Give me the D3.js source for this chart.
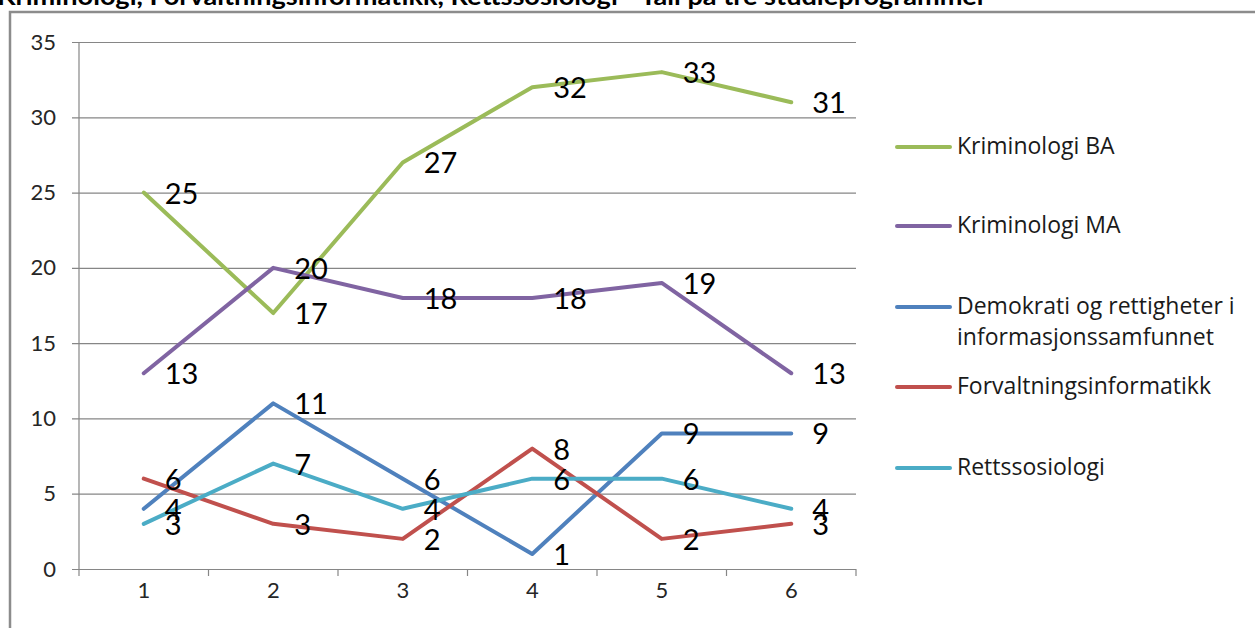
<!DOCTYPE html>
<html>
<head>
<meta charset="utf-8">
<script src="https://cdnjs.cloudflare.com/ajax/libs/d3/7.8.5/d3.min.js"></script>
<style>
  body { margin: 0; background: #fff; overflow: hidden; }
  svg { display: block; font-family: Lato, "Open Sans", sans-serif; }
</style>
</head>
<body>
<div id="chart"></div>
<script>
// data
const categories = ["1", "2", "3", "4", "5", "6"];
const seriesNames = ["Kriminologi BA", "Kriminologi MA", "Demokrati og rettigheter i informasjonssamfunnet", "Forvaltningsinformatikk", "Rettssosiologi"];
const kriminologiBA = [25, 17, 27, 32, 33, 31];
const kriminologiMA = [13, 20, 18, 18, 19, 13];
const demokrati = [4, 11, 6, 1, 9, 9];
const forvaltning = [6, 3, 2, 8, 2, 3];
const rettssosiologi = [3, 7, 4, 6, 6, 4];
const yTicks = [0, 5, 10, 15, 20, 25, 30, 35];
const colors = ["#9bbb59", "#8064a2", "#4f81bd", "#c0504d", "#4bacc6"];
const title = "Kriminologi, Forvaltningsinformatikk, Rettssosiologi - Tall på tre studieprogrammer";

const series = [kriminologiBA, kriminologiMA, demokrati, forvaltning, rettssosiologi]
  .map((vals, i) => ({ name: seriesNames[i], values: vals, color: colors[i] }));

const w = 1255, h = 628;
const plotLeft = 79, plotRight = 856, plotTop = 42, plotBottom = 569;

const svg = d3.select("#chart").append("svg")
  .attr("width", w).attr("height", h);

// title, cut at the top like in the screenshot
svg.append("text")
  .attr("x", -3).attr("y", 5)
  .attr("font-weight", "bold")
  .attr("font-size", 24)
  .attr("textLength", 990)
  .attr("lengthAdjust", "spacingAndGlyphs")
  .attr("fill", "#000")
  .text(title);

// outer frame
svg.append("path")
  .attr("d", "M10," + h + "V12H" + w)
  .attr("fill", "none")
  .attr("stroke", "#8c8c8c")
  .attr("stroke-width", 2.5);

const xScale = d3.scaleBand().domain(categories).range([plotLeft, plotRight]);
const yScale = d3.scaleLinear().domain([0, 35]).range([plotBottom, plotTop]);

// gridlines + y axis
const yAxis = d3.axisLeft(yScale)
  .tickValues(yTicks)
  .tickSize(plotRight - plotLeft + 7)
  .tickPadding(16);

const gy = svg.append("g")
  .attr("transform", "translate(" + plotRight + ",0)")
  .call(yAxis);
gy.select(".domain").remove();
gy.selectAll("line").attr("stroke", "#868686").attr("stroke-width", 1.2);
gy.selectAll("text").attr("font-size", 22).attr("fill", "#262626")
  .attr("font-family", "Lato, sans-serif");

// left axis line
svg.append("line")
  .attr("x1", plotLeft).attr("x2", plotLeft)
  .attr("y1", plotTop).attr("y2", plotBottom + 7)
  .attr("stroke", "#868686").attr("stroke-width", 1.2);

// x axis
const xAxis = d3.axisBottom(xScale).tickSize(0).tickPadding(13);
const gx = svg.append("g")
  .attr("transform", "translate(0," + plotBottom + ")")
  .call(xAxis);
gx.select(".domain").remove();
gx.selectAll("text").attr("font-size", 22).attr("fill", "#262626")
  .attr("font-family", "Lato, sans-serif");

// tick marks between categories
svg.append("g").selectAll("line")
  .data(categories)
  .enter()
  .append("line")
  .attr("x1", d => xScale(d) + xScale.bandwidth())
  .attr("x2", d => xScale(d) + xScale.bandwidth())
  .attr("y1", plotBottom).attr("y2", plotBottom + 7)
  .attr("stroke", "#868686").attr("stroke-width", 1.2);

const xPos = (i) => xScale(categories[i]) + xScale.bandwidth() / 2;

const line = d3.line()
  .x((d, i) => xPos(i))
  .y(d => yScale(d));

// lines
svg.append("g").selectAll("path")
  .data(series)
  .enter()
  .append("path")
  .attr("d", d => line(d.values))
  .attr("fill", "none")
  .attr("stroke", d => d.color)
  .attr("stroke-width", 4)
  .attr("stroke-linejoin", "round")
  .attr("stroke-linecap", "round");

// data labels
series.forEach(s => {
  svg.append("g").selectAll("text")
    .data(s.values)
    .enter()
    .append("text")
    .attr("x", (d, i) => xPos(i) + 21)
    .attr("y", d => yScale(d) + 11)
    .attr("font-size", 29)
    .attr("fill", "#000")
    .text(d => d);
});

// legend
const legendRows = [
  { s: 0, y: 147, lines: ["Kriminologi BA"] },
  { s: 1, y: 226, lines: ["Kriminologi MA"] },
  { s: 2, y: 307, lines: ["Demokrati og rettigheter i", "informasjonssamfunnet"] },
  { s: 3, y: 387, lines: ["Forvaltningsinformatikk"] },
  { s: 4, y: 468, lines: ["Rettssosiologi"] }
];

const lg = svg.append("g").selectAll("g")
  .data(legendRows)
  .enter()
  .append("g");

lg.append("line")
  .attr("x1", 897).attr("x2", 950)
  .attr("y1", d => d.y).attr("y2", d => d.y)
  .attr("stroke", d => series[d.s].color)
  .attr("stroke-width", 4)
  .attr("stroke-linecap", "round");

lg.append("text")
  .attr("x", 957)
  .attr("y", d => d.y + 7)
  .attr("font-size", 23)
  .attr("font-family", "'Open Sans', sans-serif")
  .attr("fill", "#1a1a1a")
  .selectAll("tspan")
  .data(d => d.lines)
  .enter()
  .append("tspan")
  .attr("x", 957)
  .attr("dy", (d, i) => i === 0 ? 0 : 31)
  .text(d => d);
</script>
</body>
</html>
